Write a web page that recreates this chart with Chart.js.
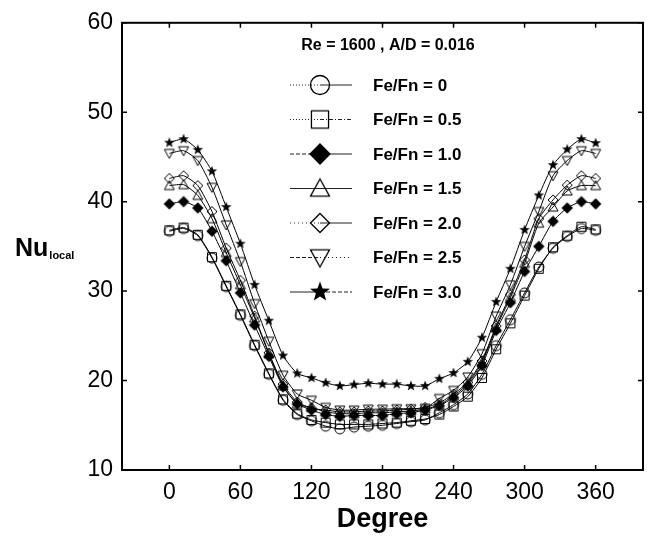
<!DOCTYPE html>
<html><head><meta charset="utf-8">
<script src="https://cdn.jsdelivr.net/npm/chart.js@4/dist/chart.umd.min.js"></script>
<style>html,body{margin:0;padding:0;background:#fff;}#wrap{width:649px;height:542px;}</style>
</head><body><div id="wrap"><canvas id="c" width="649" height="542"></canvas></div>
<script>
const degrees = [0,12,24,36,48,60,72,84,96,108,120,132,144,156,168,180,192,204,216,228,240,252,264,276,288,300,312,324,336,348,360];
const seriesLabels = ['Fe/Fn = 0','Fe/Fn = 0.5','Fe/Fn = 1.0','Fe/Fn = 1.5','Fe/Fn = 2.0','Fe/Fn = 2.5','Fe/Fn = 3.0'];
const nuFe00 = [36.7,37.0,36.2,33.7,30.5,27.3,23.9,20.7,17.8,16.2,15.5,14.9,14.6,14.8,14.9,15.0,15.2,15.4,15.6,16.4,17.3,18.5,20.7,23.9,26.8,29.8,32.7,34.8,36.1,37.0,36.8];
const nuFe05 = [36.8,37.1,36.3,33.8,30.6,27.4,24.0,20.8,17.9,16.3,15.6,15.3,15.1,15.1,15.1,15.2,15.3,15.5,15.7,16.2,17.1,18.2,20.3,23.5,26.4,29.5,32.5,34.9,36.2,37.2,36.9];
const nuFe10 = [39.75,40.0,39.3,36.7,33.4,29.8,26.2,22.7,19.3,17.4,16.7,16.2,16.0,16.1,16.1,16.1,16.3,16.4,16.7,17.2,18.1,19.4,21.7,25.6,28.7,32.2,35.0,37.8,39.3,40.0,39.75];
const nuFe15 = [41.8,41.9,40.7,38.1,34.3,30.7,27.0,23.0,19.4,17.4,17.0,16.5,16.3,16.3,16.4,16.4,16.5,16.6,16.8,17.3,18.3,19.6,22.0,25.9,29.3,33.1,37.6,39.4,41.2,41.8,41.8];
const nuFe20 = [42.6,42.9,41.8,38.9,34.8,31.2,27.2,23.1,19.6,17.6,16.9,16.7,16.5,16.5,16.6,16.6,16.7,16.8,17.0,17.5,18.5,19.8,22.2,26.1,29.6,33.5,38.1,40.2,41.85,42.9,42.6];
const nuFe25 = [45.4,45.7,44.6,41.6,37.4,33.3,28.6,24.4,20.6,18.5,17.8,17.0,16.7,16.7,16.8,16.8,16.85,16.85,16.9,18.0,18.9,20.4,23.0,27.2,30.7,35.0,38.9,42.9,44.6,45.7,45.4];
const nuFe30 = [46.6,47.0,45.8,43.4,39.4,35.3,30.7,26.7,22.8,20.8,20.3,19.75,19.4,19.55,19.7,19.6,19.6,19.4,19.4,20.2,20.85,22.1,24.8,28.8,32.5,36.85,40.7,44.1,45.85,47.0,46.55];
const xTicks = [0,60,120,180,240,300,360];
const yTicks = [10,20,30,40,50,60];
const legendTitle = 'Re = 1600 , A/D = 0.016';
const xTitle = 'Degree';
const yTitleMain = 'Nu';
const yTitleSub = 'local';

const FONT = '"Liberation Sans", Arial, Helvetica, sans-serif';
const markerKinds = ['circle','square','fdiamond','triangle','diamond','itriangle','star'];
const legendDash = [[[1,2],[]],[[1,2],[4,2,1,2]],[[4,2],[]],[[],[]],[[1,3],[]],[[4,2],[1,3]],[[],[4,2]]];

function makeMarker(kind, s, lw) {
  const pad = 3;
  const c = document.createElement('canvas');
  let n = Math.ceil(s + 2*pad); if (n % 2) n++;
  c.width = n; c.height = n;
  const g = c.getContext('2d');
  const cx = n/2, cy = n/2, r = s/2;
  g.lineWidth = lw; g.strokeStyle = '#000'; g.fillStyle = '#000'; g.lineJoin = 'miter';
  g.beginPath();
  switch (kind) {
    case 'circle': g.arc(cx, cy, r, 0, Math.PI*2); g.stroke(); break;
    case 'square': g.rect(cx-r*0.9, cy-r*0.9, r*1.8, r*1.8); g.stroke(); break;
    case 'fdiamond': g.moveTo(cx, cy-r*1.05); g.lineTo(cx+r*1.05, cy); g.lineTo(cx, cy+r*1.05); g.lineTo(cx-r*1.05, cy); g.closePath(); g.fill(); g.stroke(); break;
    case 'diamond': g.moveTo(cx, cy-r); g.lineTo(cx+r, cy); g.lineTo(cx, cy+r); g.lineTo(cx-r, cy); g.closePath(); g.stroke(); break;
    case 'triangle': g.moveTo(cx, cy-r); g.lineTo(cx+r, cy+r*0.8); g.lineTo(cx-r, cy+r*0.8); g.closePath(); g.stroke(); break;
    case 'itriangle': g.moveTo(cx, cy+r); g.lineTo(cx+r, cy-r*0.8); g.lineTo(cx-r, cy-r*0.8); g.closePath(); g.stroke(); break;
    case 'star': {
      const R = r*1.1, ri = R*0.42;
      for (let k = 0; k < 10; k++) {
        const a = -Math.PI/2 + k*Math.PI/5;
        const rr = (k % 2) ? ri : R;
        const px = cx + rr*Math.cos(a), py = cy + rr*Math.sin(a);
        if (k === 0) g.moveTo(px, py); else g.lineTo(px, py);
      }
      g.closePath(); g.fill(); break;
    }
  }
  return c;
}
const dataMarkers = markerKinds.map(k => makeMarker(k, 10, 1));
const legendMarkers = markerKinds.map(k => makeMarker(k, 19, 1.3));

const allSeries = [nuFe00, nuFe05, nuFe10, nuFe15, nuFe20, nuFe25, nuFe30];
const datasets = allSeries.map((vals, i) => ({
  label: seriesLabels[i],
  data: degrees.map((d, j) => ({x: d, y: vals[j]})),
  borderColor: '#000',
  borderWidth: 1,
  pointStyle: dataMarkers[i],
  pointRadius: 5,
  tension: 0.2,
  fill: false
}));

const framePlugin = {
  id: 'frame',
  afterDraw(chart) {
    const ctx = chart.ctx;
    const {left, right, top, bottom} = chart.chartArea;
    const xs = chart.scales.x, ys = chart.scales.y;
    ctx.save();
    ctx.strokeStyle = '#000';
    ctx.lineWidth = 2;
    ctx.strokeRect(left, top, right-left, bottom-top);
    ctx.lineWidth = 1.5;
    ctx.beginPath();
    xs.ticks.forEach(t => {
      const px = xs.getPixelForValue(t.value);
      ctx.moveTo(px, bottom); ctx.lineTo(px, bottom-5);
      ctx.moveTo(px, top); ctx.lineTo(px, top+5);
    });
    ys.ticks.forEach(t => {
      const py = ys.getPixelForValue(t.value);
      ctx.moveTo(left, py); ctx.lineTo(left+5, py);
      ctx.moveTo(right, py); ctx.lineTo(right-5, py);
    });
    ctx.stroke();
    // y title with subscript
    ctx.fillStyle = '#000';
    ctx.textBaseline = 'alphabetic';
    ctx.textAlign = 'left';
    ctx.font = 'bold 25px ' + FONT;
    const nx = 15, ny = 256;
    ctx.fillText(yTitleMain, nx, ny);
    const w = ctx.measureText(yTitleMain).width;
    ctx.font = 'bold 11px ' + FONT;
    ctx.fillText(yTitleSub, nx + w + 1, ny + 3);
    ctx.restore();
  }
};

const legendPlugin = {
  id: 'insideLegend',
  afterDatasetsDraw(chart) {
    const ctx = chart.ctx;
    ctx.save();
    ctx.fillStyle = '#000';
    ctx.font = 'bold 16px ' + FONT;
    ctx.textAlign = 'center';
    ctx.textBaseline = 'middle';
    ctx.fillText(legendTitle, 388, 46);
    ctx.textAlign = 'left';
    ctx.font = 'bold 17px ' + FONT;
    chart.data.datasets.forEach((ds, i) => {
      const y = 85 + i*34.5;
      ctx.strokeStyle = '#222';
      ctx.lineWidth = 1;
      ctx.setLineDash(legendDash[i][0]);
      ctx.beginPath(); ctx.moveTo(290, y); ctx.lineTo(320, y); ctx.stroke();
      ctx.setLineDash(legendDash[i][1]);
      ctx.beginPath(); ctx.moveTo(320, y); ctx.lineTo(352, y); ctx.stroke();
      ctx.setLineDash([]);
      const m = legendMarkers[i];
      ctx.drawImage(m, 320 - m.width/2, y - m.height/2);
      ctx.fillText(ds.label, 373, y + 1);
    });
    ctx.restore();
  }
};

Chart.defaults.font.family = FONT;
Chart.defaults.color = '#000';

new Chart(document.getElementById('c'), {
  type: 'line',
  data: { datasets },
  options: {
    responsive: false,
    devicePixelRatio: 1,
    animation: false,
    events: [],
    layout: { padding: { top: 20, right: 4, left: 0, bottom: 0 } },
    plugins: { legend: { display: false }, tooltip: { enabled: false } },
    scales: {
      x: {
        type: 'linear', min: -40, max: 400,
        afterBuildTicks(s) { s.ticks = xTicks.map(v => ({value: v})); },
        afterFit(s) { s.height = 72; },
        grid: { display: true, drawOnChartArea: false, drawTicks: false },
        border: { display: false },
        ticks: { font: { size: 23 }, color: '#000', padding: 9, maxRotation: 0 },
        title: { display: true, text: xTitle, font: { size: 27, weight: 'bold' }, color: '#000', padding: { top: 0, bottom: 6 } }
      },
      y: {
        type: 'linear', min: 10, max: 60,
        afterBuildTicks(s) { s.ticks = yTicks.map(v => ({value: v})); },
        afterFit(s) { s.width = 122; },
        grid: { display: true, drawOnChartArea: false, drawTicks: false },
        border: { display: false },
        ticks: { font: { size: 23 }, color: '#000', padding: 9 }
      }
    }
  },
  plugins: [framePlugin, legendPlugin]
});
</script>
</body></html>
